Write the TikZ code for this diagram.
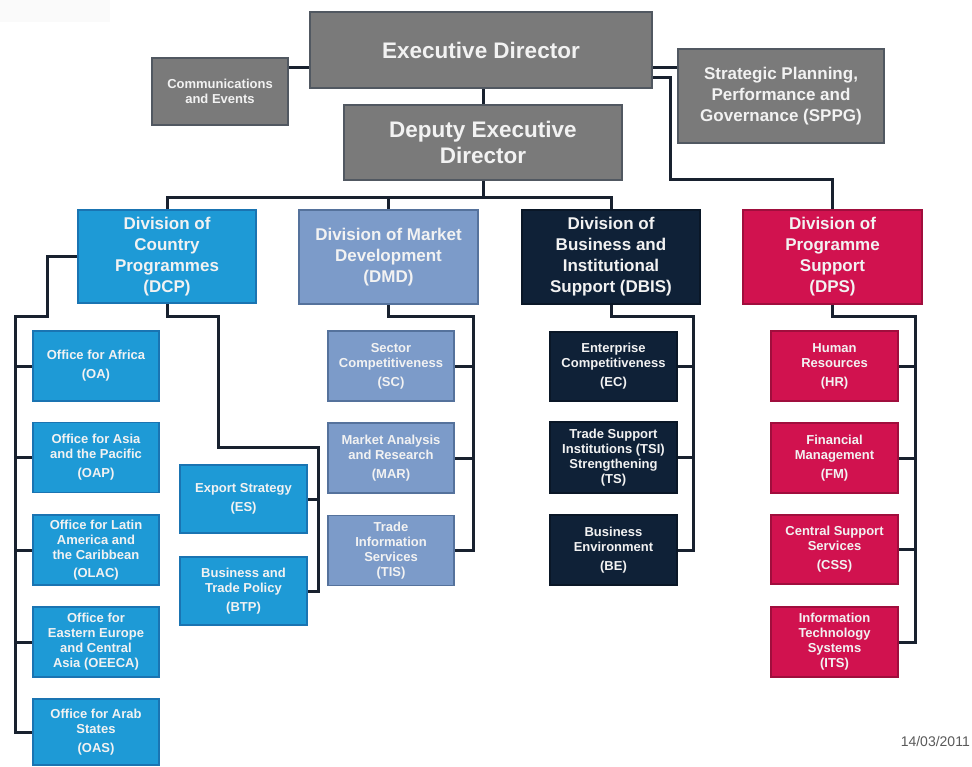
\documentclass[tikz,border=0pt]{standalone}
\usepackage{fontspec}
\setmainfont{Liberation Sans}
\usetikzlibrary{backgrounds}
\definecolor{gfill}{HTML}{7A7A7A}
\definecolor{gdraw}{HTML}{515861}
\definecolor{bfill}{HTML}{1E9AD6}
\definecolor{bdraw}{HTML}{1A74B2}
\definecolor{mfill}{HTML}{7C9BC9}
\definecolor{mdraw}{HTML}{55729C}
\definecolor{nfill}{HTML}{0F2137}
\definecolor{ndraw}{HTML}{0A1727}
\definecolor{rfill}{HTML}{D1124F}
\definecolor{rdraw}{HTML}{A00E3D}
\definecolor{lcol}{HTML}{18212F}
\definecolor{tcol}{HTML}{F2F2F2}
\begin{document}
\begin{tikzpicture}[x=1pt,y=-1pt,
  box/.style={draw, line width=1.6pt, inner sep=1pt, align=center, text=tcol},
  sz/.style 2 args={minimum width=#1, minimum height=#2},
  gbox/.style={box, fill=gfill, draw=gdraw},
  bbox/.style={box, fill=bfill, draw=bdraw},
  mbox/.style={box, fill=mfill, draw=mdraw},
  nbox/.style={box, fill=nfill, draw=ndraw},
  rbox/.style={box, fill=rfill, draw=rdraw},
  big/.style={font=\fontsize{22.5}{26}\selectfont\bfseries},
  mid/.style={font=\fontsize{17}{21}\selectfont\bfseries},
  small/.style={font=\fontsize{13}{15}\selectfont\bfseries},
  sub/.style={small, sz={126}{70}},
  conn/.style={draw=lcol, line width=3pt}
]
\useasboundingbox (0,0) rectangle (972,767);
\fill[gray!4] (0,0) rectangle (110,22);

% top level
\node[gbox, big, sz={342}{76}] (ed) at (481,50) {Executive Director};
\node[gbox, small, sz={136}{67}] (comms) at (220,91.5) {Communications\\and Events};
\node[gbox, mid, sz={206}{94}] (sppg) at (781,96) {Strategic Planning,\\Performance and\\Governance (SPPG)};
\node[gbox, big, sz={278}{75}] (ded) at (483,142.5) {Deputy Executive\\Director};

% divisions
\node[bbox, mid, sz={178}{93}] (dcp) at (167,256.5) {Division of\\Country\\Programmes\\(DCP)};
\node[mbox, mid, sz={179}{94}] (dmd) at (388.5,257) {Division of Market\\Development\\(DMD)};
\node[nbox, mid, sz={178}{94}] (dbis) at (611,257) {Division of\\Business and\\Institutional\\Support (DBIS)};
\node[rbox, mid, sz={179}{94}] (dps) at (832.5,257) {Division of\\Programme\\Support\\(DPS)};

% DCP offices
\node[bbox, sub] (oa) at (96,366) {Office for Africa\\[4pt](OA)};
\node[bbox, sub] (oap) at (96,457.5) {Office for Asia\\and the Pacific\\[4pt](OAP)};
\node[bbox, sub] (olac) at (96,550) {Office for Latin\\America and\\the Caribbean\\[3pt](OLAC)};
\node[bbox, sub] (oeeca) at (96,642) {Office for\\Eastern Europe\\and Central\\Asia (OEECA)};
\node[bbox, sub, sz={126}{66}] (oas) at (96,732) {Office for Arab\\States\\[4pt](OAS)};
\node[bbox, sub, sz={127}{68}] (es) at (243.5,499) {Export Strategy\\[4pt](ES)};
\node[bbox, sub, sz={127}{68}] (btp) at (243.5,591) {Business and\\Trade Policy\\[4pt](BTP)};

% DMD sections
\node[mbox, sub] (sc) at (391,366) {Sector\\Competitiveness\\[4pt](SC)};
\node[mbox, sub] (mar) at (391,458) {Market Analysis\\and Research\\[4pt](MAR)};
\node[mbox, sub] (tis) at (391,550.5) {Trade\\Information\\Services\\(TIS)};

% DBIS sections
\node[nbox, sub, sz={127}{69}] (ec) at (613.5,366.5) {Enterprise\\Competitiveness\\[4pt](EC)};
\node[nbox, sub, sz={127}{71}] (tsi) at (613.5,457.5) {Trade Support\\Institutions (TSI)\\Strengthening\\(TS)};
\node[nbox, sub, sz={127}{70}] (be) at (613.5,550) {Business\\Environment\\[4pt](BE)};

% DPS sections
\node[rbox, sub, sz={127}{70}] (hr) at (834.5,366) {Human\\Resources\\[4pt](HR)};
\node[rbox, sub, sz={127}{70}] (fm) at (834.5,458) {Financial\\Management\\[4pt](FM)};
\node[rbox, sub, sz={127}{69}] (css) at (834.5,549.5) {Central Support\\Services\\[4pt](CSS)};
\node[rbox, sub, sz={127}{70}] (its) at (834.5,642) {Information\\Technology\\Systems\\(ITS)};

\node[anchor=east, inner sep=0pt, font=\fontsize{14}{16}\selectfont, text=black!65] (date) at (970,741) {14/03/2011};

\begin{scope}[on background layer]
% top connectors
\draw[conn] (comms.east |- 0,68) -- (ed.west |- 0,68);
\draw[conn] (ed.east |- 0,68) -- (sppg.west |- 0,68);
\draw[conn] (ded.north) -- (ded.north |- ed.south);
\coordinate (bus) at (483,198);
\draw[conn] (ded.south) -- (bus);
\draw[conn] (dcp.north) |- (bus) -| (dbis.north);
\draw[conn] (dmd.north) -- (dmd.north |- bus);
\coordinate (r1) at (670,78);
\coordinate (r2) at (670,180);
\draw[conn] (ed.east |- r1) -- (r1) -- (r2) -| (dps.north);

% DCP left tree
\coordinate (l1) at (47,317);
\coordinate (l2) at (15,317);
\draw[conn] (dcp.west) -| (l1) -- (l2) |- (oas.west);
\foreach \n in {oa,oap,olac,oeeca} \draw[conn] (l2 |- \n.west) -- (\n.west);

% DCP right tree
\coordinate (m1) at (218,317);
\coordinate (m2) at (318,447);
\draw[conn] (dcp.south) |- (m1) -- (m1 |- m2) -- (m2) |- (btp.east);
\draw[conn] (m2 |- es.east) -- (es.east);

% DMD tree
\coordinate (d1) at (473,317);
\draw[conn] (dmd.south) |- (d1) |- (tis.east);
\foreach \n in {sc,mar} \draw[conn] (d1 |- \n.east) -- (\n.east);

% DBIS tree
\coordinate (b1) at (693,317);
\draw[conn] (dbis.south) |- (b1) |- (be.east);
\foreach \n in {ec,tsi} \draw[conn] (b1 |- \n.east) -- (\n.east);

% DPS tree
\coordinate (p1) at (915,317);
\draw[conn] (dps.south) |- (p1) |- (its.east);
\foreach \n in {hr,fm,css} \draw[conn] (p1 |- \n.east) -- (\n.east);
\end{scope}
\end{tikzpicture}
\end{document}
